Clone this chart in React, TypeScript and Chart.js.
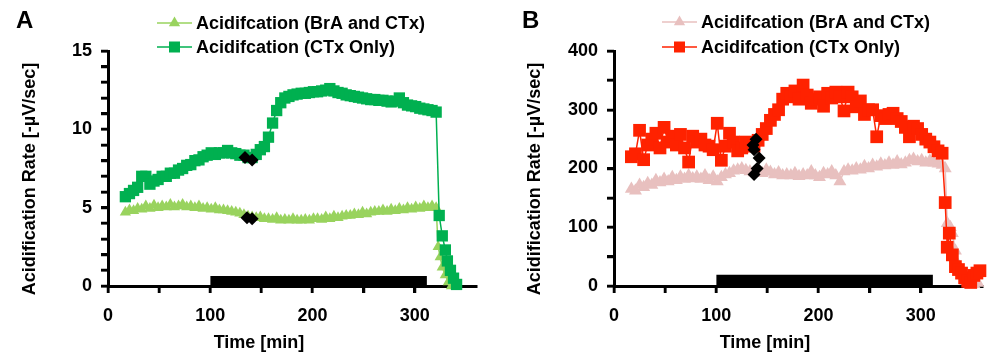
import React, { useEffect, useRef } from 'react';
import { Chart, registerables } from 'chart.js';

Chart.register(...registerables);

const FONT = '"Liberation Sans", Arial, sans-serif';

// ---------- DATA ----------
const times = [
  17, 21, 25, 29, 33, 37, 41, 45, 49, 53,
  57, 61, 65, 69, 73, 77, 81, 85, 89, 93,
  97, 101, 105, 109, 113, 117, 121, 125, 129, 133,
  137, 141, 145, 149, 153, 157, 161, 165, 169, 173,
  177, 181, 185, 189, 193, 197, 201, 205, 209, 213,
  217, 221, 225, 229, 233, 237, 241, 245, 249, 253,
  257, 261, 265, 269, 273, 277, 281, 285, 289, 293,
  297, 301, 305, 309, 313, 317, 321,
];

// Panel A
const ctxOnlyA = [
  5.7, 5.9, 6.1, 6.3, 7.0, 7.0, 6.5, 6.7, 6.8, 7.0,
  7.0, 7.2, 7.2, 7.4, 7.5, 7.7, 7.75, 8.0, 8.05, 8.25,
  8.35, 8.5, 8.4, 8.5, 8.5, 8.65, 8.5, 8.45, 8.35, 8.35,
  8.2, 8.2, 8.4, 8.7, 8.9, 9.5, 10.4, 11.2, 11.7, 12.0,
  12.1, 12.2, 12.25, 12.3, 12.3, 12.35, 12.4, 12.4, 12.45, 12.5,
  12.6, 12.45, 12.35, 12.3, 12.2, 12.15, 12.1, 12.05, 12.0, 11.95,
  11.9, 11.9, 11.85, 11.85, 11.8, 11.75, 11.8, 12.0, 11.7, 11.55,
  11.5, 11.45, 11.35, 11.3, 11.25, 11.2, 11.1,
];
const ctxOnlyDropTimesA = [324, 327, 330, 332, 335, 338, 341];
const ctxOnlyDropA = [4.5, 3.2, 2.3, 1.6, 1.0, 0.5, 0.1];

const braCtxA = [
  4.7, 4.85, 4.8, 4.95, 4.9, 5.1, 4.95, 5.15, 5.0, 5.1,
  5.05, 5.2, 5.05, 5.1, 5.2, 5.05, 5.1, 5.0, 5.1, 4.95,
  5.0, 4.9, 5.0, 4.85, 4.85, 4.8, 4.75, 4.7, 4.65, 4.55,
  4.45, 4.4, 4.35, 4.4, 4.3, 4.3, 4.25, 4.35, 4.2, 4.25,
  4.2, 4.3, 4.2, 4.2, 4.25, 4.2, 4.3, 4.3, 4.25, 4.4,
  4.3, 4.45, 4.35, 4.45, 4.5, 4.5, 4.6, 4.55, 4.7, 4.6,
  4.7, 4.75, 4.75, 4.85, 4.75, 4.9, 4.8, 4.95, 4.85, 5.0,
  4.9, 5.05, 4.95, 5.1, 5.0, 5.1, 5.0,
];
const braCtxDropTimesA = [323, 325, 327, 330, 333, 336];
const braCtxDropA = [2.5, 1.85, 1.2, 0.7, 0.25, 0.0];

const markerTimesA = [134, 141, 136, 141];
const markerValsA = [8.2, 8.05, 4.35, 4.3];

// Panel B
const ctxOnlyB = [
  220, 225, 265, 215, 240, 250, 260, 235, 270, 245,
  255, 240, 258, 235, 211, 255, 245, 250, 240, 238,
  232, 277, 214, 238, 260, 245, 230, 235, 245, 242,
  238, 248, 258, 268, 282, 292, 300, 318, 328, 322,
  332, 318, 342, 325, 311, 318, 322, 306, 328, 320,
  330, 322, 298, 330, 322, 305, 315, 292, 300, 300,
  254, 290, 285, 292, 294, 285, 280, 270, 254, 272,
  268, 258, 250, 245, 237, 230, 226,
];
const ctxOnlyDropTimesB = [324, 326, 328, 331, 334, 337, 340, 343, 346, 349, 352, 355, 358];
const ctxOnlyDropB = [142, 66, 90, 53, 33, 28, 22, 14, 8, 6, 18, 22, 26];

const braCtxB = [
  165, 162, 172, 168, 175, 172, 180, 176, 182, 178,
  185, 180, 186, 182, 188, 183, 186, 182, 188, 180,
  186, 178, 185, 190, 192, 196, 198, 200, 197, 195,
  193, 196, 192, 198, 194, 190, 193, 188, 190, 188,
  192, 187, 190, 188, 195, 188, 185, 192, 190, 195,
  188, 178, 195, 198, 196, 200, 198, 204, 200, 206,
  203, 208, 205, 210, 206, 212, 207, 210, 214, 216,
  212, 214, 210, 213, 210, 208, 206,
];
const braCtxDropTimesB = [324, 326, 329, 331, 334, 337, 340, 344, 348, 352, 356];
const braCtxDropB = [200, 107, 100, 90, 60, 35, 18, 8, 4, 3, 5];

const markerTimesB = [136, 139, 137, 142, 140, 137];
const markerValsB = [240, 250, 232, 218, 200, 190];

// Treatment bar (time interval)
const barStart = 100;
const barEnd = 312;
const barLevelA = 0.64;
const barLevelB = 19;

// Axis ticks
const xTickStep = 50;
const xTickLabels = [0, 100, 200, 300];
const yTickLabelsA = [0, 5, 10, 15];
const yTickLabelsB = [0, 100, 200, 300, 400];

const seriesLabels = ['Acidifcation (BrA and CTx)', 'Acidifcation (CTx Only)'];

// ---------- HELPERS ----------
const pts = (xs: number[], ys: number[]) => xs.map((x, i) => ({ x, y: ys[i] }));

const NUB = 5.5; // tick mark length beyond axis line
const AXIS_W = 3;

const decorPlugin = {
  id: 'panelDecor',
  afterDraw(chart: any, _args: any, opts: any) {
    const ctx = chart.ctx as CanvasRenderingContext2D;
    const area = chart.chartArea;
    ctx.save();

    // tick marks, placed by the library's own scales
    ctx.strokeStyle = '#000';
    ctx.lineWidth = 2.5;
    ctx.lineCap = 'butt';
    const xs = chart.scales.x;
    const ys = chart.scales.y;
    xs.ticks.forEach((t: any) => {
      if (t.value % xTickStep !== 0) return;
      const px = Math.round(xs.getPixelForValue(t.value));
      ctx.beginPath();
      ctx.moveTo(px, area.bottom);
      ctx.lineTo(px, area.bottom + AXIS_W / 2 + NUB);
      ctx.stroke();
    });
    ys.ticks.forEach((t: any) => {
      if (t.value % opts.yStep !== 0) return;
      const py = Math.round(ys.getPixelForValue(t.value));
      ctx.beginPath();
      ctx.moveTo(area.left, py);
      ctx.lineTo(area.left - AXIS_W / 2 - NUB, py);
      ctx.stroke();
    });

    ctx.fillStyle = '#000';
    ctx.textAlign = 'left';
    ctx.textBaseline = 'alphabetic';
    ctx.font = `bold 24px ${FONT}`;
    ctx.fillText(opts.letter, opts.letterX, opts.letterY);

    // legend
    const items = opts.legendItems as number[];
    items.forEach((dsIndex: number, row: number) => {
      const ds = chart.data.datasets[dsIndex];
      const y = opts.legendY[row];
      ctx.strokeStyle = ds.borderColor;
      ctx.lineWidth = 1.5;
      ctx.beginPath();
      ctx.moveTo(opts.lineX0, y);
      ctx.lineTo(opts.lineX1, y);
      ctx.stroke();
      const cx = (opts.lineX0 + opts.lineX1) / 2;
      ctx.fillStyle = ds.pointBackgroundColor;
      if (ds.pointStyle === 'rect') {
        ctx.fillRect(cx - 5.5, y - 5.5, 11, 11);
      } else {
        const r = 6.5;
        ctx.beginPath();
        ctx.moveTo(cx, y - r);
        ctx.lineTo(cx + r * 0.866, y + r * 0.5);
        ctx.lineTo(cx - r * 0.866, y + r * 0.5);
        ctx.closePath();
        ctx.fill();
      }
      ctx.fillStyle = '#000';
      ctx.font = `bold 18px ${FONT}`;
      ctx.textBaseline = 'middle';
      ctx.textAlign = 'left';
      ctx.fillText(ds.label, opts.textX, y + 1);
    });

    // axis titles
    ctx.font = `bold 18px ${FONT}`;
    ctx.textAlign = 'center';
    ctx.textBaseline = 'middle';
    ctx.save();
    ctx.translate(opts.yTitleX, opts.yTitleY);
    ctx.rotate(-Math.PI / 2);
    ctx.fillText('Acidification Rate [-µV/sec]', 0, 0);
    ctx.restore();
    ctx.fillText('Time [min]', opts.xTitleX, opts.xTitleY);
    ctx.restore();
  },
};

function makeConfig(p: any) {
  const tickFont = { family: FONT, size: 18, weight: 'bold' as const };
  const gridOpts = {
    display: true,
    drawOnChartArea: false,
    drawTicks: true,
    tickLength: 7,
    color: '#000000',
    tickColor: '#000000',
    lineWidth: 2.5,
    tickWidth: 2.5,
  };
  return {
    type: 'line',
    data: {
      datasets: [
        {
          label: 'markers',
          data: pts(p.markerTimes, p.markerVals),
          showLine: false,
          pointStyle: 'rectRot',
          pointRadius: 6.5,
          pointBorderWidth: 0,
          pointBackgroundColor: '#000',
          borderColor: '#000',
          clip: false,
        },
        {
          label: seriesLabels[1],
          data: pts(times, p.ctx).concat(pts(p.ctxDropTimes, p.ctxDrop)),
          borderColor: p.ctxColor,
          backgroundColor: p.ctxColor,
          pointBackgroundColor: p.ctxColor,
          pointBorderColor: p.ctxColor,
          pointBorderWidth: 0,
          pointStyle: 'rect',
          pointRadius: p.squareRadius,
          borderWidth: 1.5,
          tension: 0,
          clip: false,
        },
        {
          label: seriesLabels[0],
          data: pts(times, p.bra).concat(pts(p.braDropTimes, p.braDrop)),
          borderColor: p.braColor,
          backgroundColor: p.braColor,
          pointBackgroundColor: p.braColor,
          pointBorderColor: p.braColor,
          pointBorderWidth: 0,
          pointStyle: 'triangle',
          pointRadius: p.triRadius,
          borderWidth: 1.5,
          tension: 0,
          clip: false,
        },
        {
          label: 'bar',
          data: [
            { x: barStart, y: p.barLevel },
            { x: barEnd, y: p.barLevel },
          ],
          borderWidth: 0,
          borderColor: '#000',
          backgroundColor: '#000',
          pointRadius: 0,
          fill: 'origin',
        },
      ],
    },
    options: {
      responsive: false,
      animation: false,
      events: [],
      layout: { padding: { top: 51, right: p.rightPad, bottom: 0, left: 0 } },
      plugins: {
        legend: { display: false },
        tooltip: { enabled: false },
        panelDecor: { ...p.decor, yStep: p.yStep },
      },
      scales: {
        x: {
          type: 'linear',
          min: 0,
          max: 360,
          afterFit: (s: any) => {
            s.height = 78;
          },
          ticks: {
            stepSize: xTickStep,
            autoSkip: false,
            maxRotation: 0,
            padding: 12,
            color: '#000',
            font: tickFont,
            callback: (v: number) =>
              xTickLabels.includes(v) ? String(v) : v % xTickStep === 0 ? ' ' : null,
          },
          grid: gridOpts,
          border: { display: true, color: '#000', width: AXIS_W },
        },
        y: {
          type: 'linear',
          min: 0,
          max: p.yMax,
          afterFit: (s: any) => {
            s.width = p.yWidth;
          },
          ticks: {
            stepSize: p.yStep,
            autoSkip: false,
            padding: 9,
            color: '#000',
            font: tickFont,
            callback: (v: number) => (p.yLabels.includes(v) ? String(v) : ' '),
          },
          grid: gridOpts,
          border: { display: true, color: '#000', width: AXIS_W },
        },
      },
    },
    plugins: [decorPlugin],
  };
}

const panelA = {
  markerTimes: markerTimesA,
  markerVals: markerValsA,
  ctx: ctxOnlyA,
  ctxDropTimes: ctxOnlyDropTimesA,
  ctxDrop: ctxOnlyDropA,
  bra: braCtxA,
  braDropTimes: braCtxDropTimesA,
  braDrop: braCtxDropA,
  ctxColor: '#00B050',
  braColor: '#99D35E',
  squareRadius: 8,
  triRadius: 6.5,
  barLevel: barLevelA,
  yMax: 15,
  yStep: 1,
  yLabels: yTickLabelsA,
  yWidth: 108,
  rightPad: 24,
  decor: {
    letter: 'A',
    letterX: 16,
    letterY: 28,
    legendItems: [2, 1],
    legendY: [23, 47],
    lineX0: 157,
    lineX1: 192,
    textX: 196,
    yTitleX: 30,
    yTitleY: 179,
    xTitleX: 259,
    xTitleY: 343,
  },
};

const panelB = {
  markerTimes: markerTimesB,
  markerVals: markerValsB,
  ctx: ctxOnlyB,
  ctxDropTimes: ctxOnlyDropTimesB,
  ctxDrop: ctxOnlyDropB,
  bra: braCtxB,
  braDropTimes: braCtxDropTimesB,
  braDrop: braCtxDropB,
  ctxColor: '#FF2200',
  braColor: '#E8C0BF',
  squareRadius: 9,
  triRadius: 7.5,
  barLevel: barLevelB,
  yMax: 400,
  yStep: 50,
  yLabels: yTickLabelsB,
  yWidth: 114,
  rightPad: 18,
  decor: {
    letter: 'B',
    letterX: 22,
    letterY: 28,
    legendItems: [2, 1],
    legendY: [22, 47],
    lineX0: 162,
    lineX1: 197,
    textX: 201,
    yTitleX: 35,
    yTitleY: 179,
    xTitleX: 265,
    xTitleY: 343,
  },
};

function Panel({ panel }: { panel: any }) {
  const ref = useRef<HTMLCanvasElement | null>(null);
  useEffect(() => {
    if (!ref.current) return;
    const chart = new Chart(ref.current, makeConfig(panel) as any);
    return () => chart.destroy();
  }, [panel]);
  return <canvas ref={ref} width={500} height={364} style={{ width: 500, height: 364, display: 'block' }} />;
}

export default function App() {
  return (
    <div
      style={{
        position: 'fixed',
        left: 0,
        top: 0,
        width: 1000,
        height: 364,
        display: 'flex',
        background: '#fff',
      }}
    >
      <Panel panel={panelA} />
      <Panel panel={panelB} />
    </div>
  );
}
